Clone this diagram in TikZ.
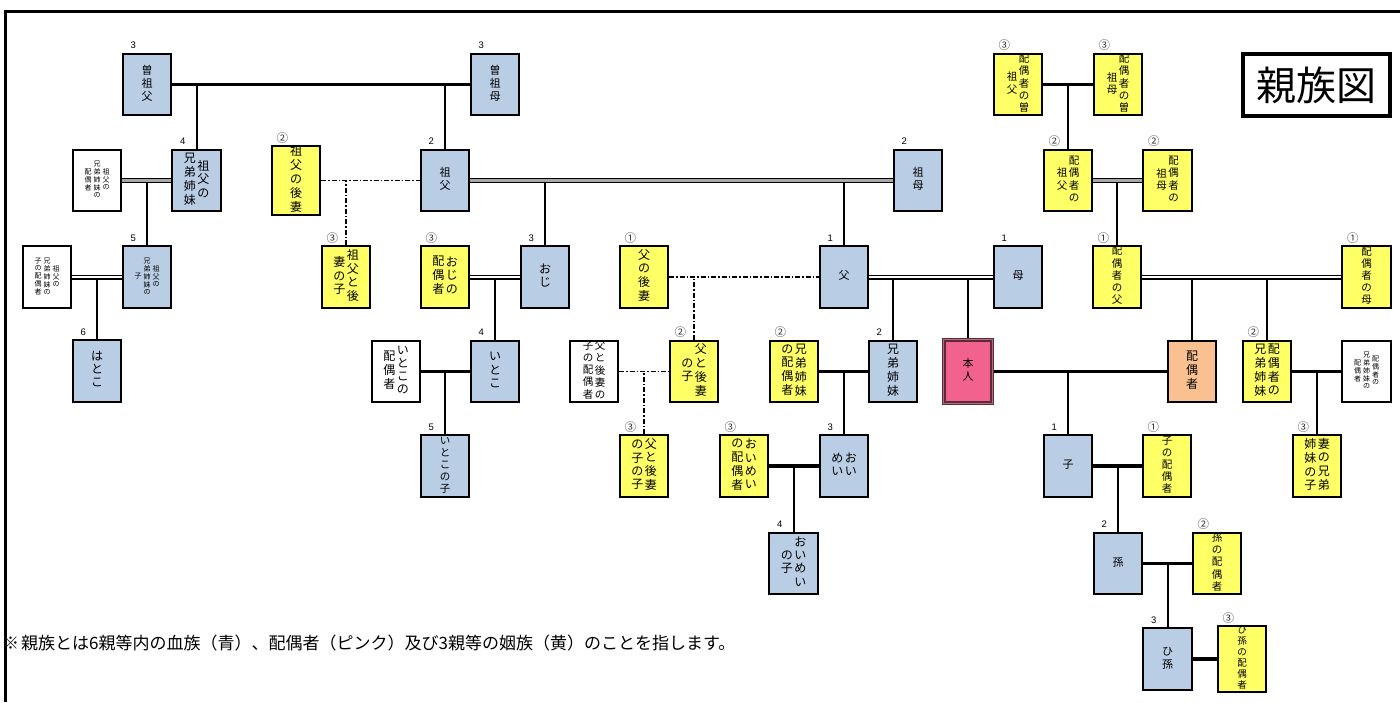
\documentclass[tikz,border=0pt]{standalone}
\usepackage{fontspec}
\setmainfont{Noto Sans CJK JP}
\newfontfamily\numfont{Liberation Sans}
\usetikzlibrary{calc}
\definecolor{bluef}{HTML}{B9CDE4}
\definecolor{yellowf}{HTML}{FFFF66}
\definecolor{pinkf}{HTML}{F2628F}
\definecolor{orangef}{HTML}{FAC090}
\definecolor{selfbd}{HTML}{5E2A36}
\definecolor{selfmid}{HTML}{B07080}
\definecolor{dblgray}{HTML}{A8A8A8}
\newcommand{\vt}[1]{\begin{tabular}[c]{@{}c@{}}#1\end{tabular}}
\newcommand{\cg}{\hspace{1.5pt}}
\newcommand{\cs}{\hspace{2pt}}
\pgfdeclarelayer{bg}
\pgfsetlayers{bg,main}
\newcommand{\nlab}[2]{\node[numlab] (#1-lab) at ([shift={(11.5pt,7pt)}]#1.north west) {#2};}
\newcommand{\clab}[2]{\node[cirlab] (#1-lab) at ([shift={(11.5pt,7pt)}]#1.north west) {#2};}
\begin{document}
\begin{tikzpicture}[x=1pt,y=-1pt,
  box/.style={draw=black, line width=2pt, rectangle, minimum width=48.3pt, minimum height=61.8pt, inner sep=0pt, font=\fontsize{11}{13}\selectfont, text=black},
  blood/.style={box, fill=bluef},
  inlaw/.style={box, fill=yellowf},
  other/.style={box, fill=white},
  spbox/.style={box, fill=orangef},
  selfbox/.style={box, fill=pinkf, draw=selfbd, line width=1.2pt, double=selfmid, double distance=1.2pt, minimum width=48.4pt, minimum height=63.4pt},
  tiny/.style={font=\fontsize{7}{7.2}\selectfont},
  mid/.style={font=\fontsize{10.5}{12}\selectfont},
  smallish/.style={font=\fontsize{9.5}{10.6}\selectfont},
  big/.style={font=\fontsize{12}{13.2}\selectfont},
  thk/.style={line width=3.4pt},
  vln/.style={line width=2pt},
  dblg/.style={line width=1.3pt, double=dblgray, double distance=2.4pt},
  dblw/.style={line width=1.3pt, double=white, double distance=2.4pt},
  dsh/.style={line width=1.6pt, dash pattern=on 5pt off 2pt on 1.5pt off 2pt},
  numlab/.style={font=\numfont\fontsize{9.5}{9.5}\selectfont, inner sep=0pt},
  cirlab/.style={font=\fontsize{11.5}{11.5}\selectfont, inner sep=0pt, text=black!80}
]
\useasboundingbox (0,0) rectangle (1400,702);
\draw[line width=3pt] (5,702) -- (5,11) -- (1400,11);

% row 1
\node[blood] (ssf) at (147,84.5) {\vt{曽\\祖\\父}};
\node[blood] (ssm) at (495,84.5) {\vt{曽\\祖\\母}};
\node[inlaw,mid] (hsf) at (1018,84.5) {\vt{祖\\父}\cg\vt{配\\偶\\者\\の\\曽}};
\node[inlaw,mid] (hsm) at (1118,84.5) {\vt{祖\\母}\cg\vt{配\\偶\\者\\の\\曽}};
% row 2
\node[other,tiny] (gfsibsp) at (97,180.5) {\vt{配\\偶\\者}\cs\vt{兄\\弟\\姉\\妹\\の}\cs\vt{祖\\父\\の}};
\node[blood,big] (gfsib) at (196.5,180.5) {\vt{兄\\弟\\姉\\妹}\cg\vt{祖\\父\\の}};
\node[inlaw,big] (gfw) at (296,180.5) {\vt{祖\\父\\の\\後\\妻}};
\node[blood] (gf) at (445,180.5) {\vt{祖\\父}};
\node[blood] (gm) at (918,180.5) {\vt{祖\\母}};
\node[inlaw,mid] (hgf) at (1068,180.5) {\vt{祖\\父}\cg\vt{配\\偶\\者\\の}};
\node[inlaw,mid] (hgm) at (1167.5,180.5) {\vt{祖\\母}\cg\vt{配\\偶\\者\\の}};
% row 3
\node[other,tiny] (gfsibchsp) at (47,277) {\vt{子\\の\\配\\偶\\者}\cs\vt{兄\\弟\\姉\\妹\\の}\cs\vt{祖\\父\\の}};
\node[blood,tiny] (gfsibch) at (147,277) {\vt{子}\cs\vt{兄\\弟\\姉\\妹\\の}\cs\vt{祖\\父\\の}};
\node[inlaw,big] (gfwch) at (346,277) {\vt{妻\\の\\子}\cg\vt{祖\\父\\と\\後}};
\node[inlaw,big] (unclesp) at (445,277) {\vt{配\\偶\\者}\cg\vt{お\\じ\\の}};
\node[blood,big] (uncle) at (545,277) {\vt{お\\じ}};
\node[inlaw,big] (fw) at (644,277) {\vt{父\\の\\後\\妻}};
\node[blood] (fa) at (844,277) {\vt{父}};
\node[blood] (mo) at (1018,277) {\vt{母}};
\node[inlaw,mid] (hf) at (1117,277) {\vt{配\\偶\\者\\の\\父}};
\node[inlaw,mid] (hm) at (1366.5,277) {\vt{配\\偶\\者\\の\\母}};
% row 4
\node[blood,big] (hatoko) at (97,371) {\vt{は\\と\\こ}};
\node[other,big] (cousinsp) at (396,371.5) {\vt{配\\偶\\者}\cg\vt{い\\と\\こ\\の}};
\node[blood,big] (cousin) at (495,371.5) {\vt{い\\と\\こ}};
\node[other,mid] (fwchsp) at (594,371.5) {\vt{子\\の\\配\\偶\\者}\cg\vt{父\\と\\後\\妻\\の}};
\node[inlaw,big] (fwch) at (694,371.5) {\vt{の\\子}\cg\vt{父\\と\\後\\妻}};
\node[inlaw,big] (sibsp) at (794,371.5) {\vt{の\\配\\偶\\者}\cg\vt{兄\\弟\\姉\\妹}};
\node[blood,big] (sib) at (893,371.5) {\vt{兄\\弟\\姉\\妹}};
\node[selfbox] (self) at (968,371.5) {\vt{本\\人}};
\node[spbox,big] (sp) at (1192,371.5) {\vt{配\\偶\\者}};
\node[inlaw,big] (hsib) at (1267,371.5) {\vt{兄\\弟\\姉\\妹}\cg\vt{配\\偶\\者\\の}};
\node[other,tiny] (hsibsp) at (1366.5,371.5) {\vt{配\\偶\\者}\cs\vt{兄\\弟\\姉\\妹\\の}\cs\vt{配\\偶\\者\\の}};
% row 5
\node[blood,mid] (cousinch) at (445,466) {\vt{い\\と\\こ\\の\\子}};
\node[inlaw,big] (fwchch) at (644,466) {\vt{の\\子\\の\\子}\cg\vt{父\\と\\後\\妻}};
\node[inlaw,big] (nepsp) at (744,466) {\vt{の\\配\\偶\\者}\cg\vt{お\\い\\め\\い}};
\node[blood,big] (nep) at (844,466) {\vt{め\\い}\cg\vt{お\\い}};
\node[blood] (ch) at (1068,466) {\vt{子}};
\node[inlaw,mid] (chsp) at (1167,466) {\vt{子\\の\\配\\偶\\者}};
\node[inlaw,big] (hsibch) at (1317,466) {\vt{姉\\妹\\の\\子}\cg\vt{妻\\の\\兄\\弟}};
% row 6
\node[blood,big] (nepch) at (793.5,563.5) {\vt{の\\子}\cg\vt{お\\い\\め\\い}};
\node[blood] (gc) at (1118,563.5) {\vt{孫}};
\node[inlaw,mid] (gcsp) at (1217,563.5) {\vt{孫\\の\\配\\偶\\者}};
% row 7
\node[blood] (ggc) at (1167.5,659) {\vt{ひ\\孫}};
\node[inlaw,smallish] (ggcsp) at (1242,659) {\vt{ひ\\孫\\の\\配\\偶\\者}};

% labels
\nlab{ssf}{3}\nlab{ssm}{3}\nlab{gfsib}{4}\nlab{gfsibch}{5}\nlab{hatoko}{6}
\nlab{gf}{2}\nlab{gm}{2}\nlab{uncle}{3}\nlab{cousin}{4}\nlab{cousinch}{5}
\nlab{fa}{1}\nlab{mo}{1}\nlab{sib}{2}\nlab{nep}{3}\nlab{nepch}{4}
\nlab{ch}{1}\nlab{gc}{2}\nlab{ggc}{3}
\clab{gfw}{②}\clab{gfwch}{③}\clab{unclesp}{③}\clab{fw}{①}\clab{fwch}{②}
\clab{fwchch}{③}\clab{sibsp}{②}\clab{nepsp}{③}\clab{hsf}{③}\clab{hsm}{③}
\clab{hgf}{②}\clab{hgm}{②}\clab{hf}{①}\clab{hm}{①}\clab{hsib}{②}
\clab{hsibch}{③}\clab{chsp}{①}\clab{gcsp}{②}\clab{ggcsp}{③}

% title
\node[draw=black, line width=2.6pt, minimum width=148pt, minimum height=63pt, inner sep=0pt, font=\fontsize{40}{40}\selectfont] (title) at (1316.5,85) {親族図};
\draw[line width=0.8pt] ([shift={(3.5pt,-3.5pt)}]title.north west) rectangle ([shift={(-3.5pt,3.5pt)}]title.south east);

% footnote
\node[anchor=west, inner sep=0pt, font=\fontsize{17}{18}\selectfont] (note) at (2,643) {※\hspace{2pt}親族とは6親等内の血族（青）、配偶者（ピンク）及び3親等の姻族（黄）のことを指します。};

\begin{pgfonlayer}{bg}
% verticals first
\draw[vln] (gfsib.north) -- (gfsib.north |- ssf.east);
\draw[vln] (gf.north) -- (gf.north |- ssf.east);
\draw[vln] (gfsibch.north) -- (gfsibch.north |- gfsib.west);
\draw[vln] (hatoko.north) -- (hatoko.north |- gfsibch.west);
\draw[dsh] (gfwch.north) -- (gfwch.north |- gf.west);
\draw[vln] (uncle.north) -- (uncle.north |- gf.east);
\draw[vln] (fa.north) -- (fa.north |- gf.east);
\draw[vln] (cousin.north) -- (cousin.north |- uncle.west);
\draw[vln] (cousinch.north) -- (cousinch.north |- cousin.west);
\draw[dsh] (fwch.north) -- (fwch.north |- fa.west);
\draw[dsh] (fwchch.north) -- (fwchch.north |- fwch.west);
\draw[vln] (sib.north) -- (sib.north |- fa.east);
\draw[vln] (self.north) -- (self.north |- fa.east);
\draw[vln] (nep.north) -- (nep.north |- sib.west);
\draw[vln] (nepch.north) -- (nepch.north |- nep.west);
\draw[vln] (ch.north) -- (ch.north |- self.east);
\draw[vln] (gc.north) -- (gc.north |- ch.east);
\draw[vln] (ggc.north) -- (ggc.north |- gc.east);
\draw[vln] (hgf.north) -- (hgf.north |- hsf.east);
\draw[vln] (hf.north) -- (hf.north |- hgf.east);
\draw[vln] (sp.north) -- (sp.north |- hf.east);
\draw[vln] (hsib.north) -- (hsib.north |- hf.east);
\draw[vln] (hsibch.north) -- (hsibch.north |- hsib.west);
% horizontals
\draw[thk] (ssf.east) -- (ssm.west);
\draw[dblg] (gfsibsp.east) -- (gfsib.west);
\draw[dblw] (gfsibchsp.east) -- (gfsibch.west);
\draw[dsh] (gfw.east) -- (gf.west);
\draw[dblg] (gf.east) -- (gm.west);
\draw[dblw] (unclesp.east) -- (uncle.west);
\draw[thk] (cousinsp.east) -- (cousin.west);
\draw[dsh] (fw.east) -- (fa.west);
\draw[dsh] (fwchsp.east) -- (fwch.west);
\draw[dblw] (fa.east) -- (mo.west);
\draw[thk] (sibsp.east) -- (sib.west);
\draw[thk] (nepsp.east) -- (nep.west);
\draw[thk] (self.east) -- (sp.west);
\draw[thk] (ch.east) -- (chsp.west);
\draw[thk] (gc.east) -- (gcsp.west);
\draw[thk] (ggc.east) -- (ggcsp.west);
\draw[thk] (hsf.east) -- (hsm.west);
\draw[dblg] (hgf.east) -- (hgm.west);
\draw[dblw] (hf.east) -- (hm.west);
\draw[thk] (hsib.east) -- (hsibsp.west);
\end{pgfonlayer}
\end{tikzpicture}
\end{document}
